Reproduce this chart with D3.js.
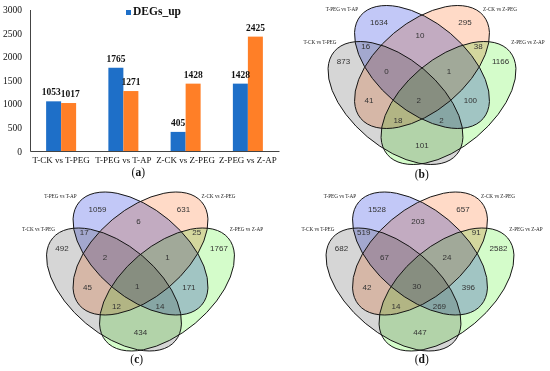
<!DOCTYPE html>
<html>
<head>
<meta charset="utf-8">
<script src="https://cdn.jsdelivr.net/npm/d3@7"></script>
<style>
  body { margin: 0; background: #fff; }
  svg { display: block; }
  .serif { font-family: "Liberation Serif", "Times New Roman", serif; fill: #111; }
  .count { font-family: "Liberation Sans", Arial, sans-serif; font-size: 8px; fill: #333; }
  .set-label { font-family: "Liberation Serif", "Times New Roman", serif; font-size: 5.2px; fill: #222; }
</style>
</head>
<body>
<svg id="fig" width="550" height="371"></svg>
<script>
// ---- data, panel (a) ----
var categories = ["T-CK vs T-PEG", "T-PEG vs T-AP", "Z-CK vs Z-PEG", "Z-PEG vs Z-AP"];
var seriesNames = ["DEGs_up", "DEGs_down"];
var degsUp = [1053, 1765, 405, 1428];
var degsDown = [1017, 1271, 1428, 2425];
var yTicks = [0, 500, 1000, 1500, 2000, 2500, 3000];
var legendNames = ["DEGs_up"];   // only this entry shows in the figure

// ---- data, panels (b) (c) (d) ----
var setNames = ["T-CK vs T-PEG", "T-PEG vs T-AP", "Z-CK vs Z-PEG", "Z-PEG vs Z-AP"];
var regionKeys = ["A", "B", "C", "D", "AB", "BC", "CD", "ABC", "BCD", "AC", "ABCD", "BD", "ACD", "ABD", "AD"];
var vennB = [873, 1634, 295, 1166, 16, 10, 38, 0, 1, 41, 2, 100, 18, 2, 101];
var vennC = [492, 1059, 631, 1767, 17, 6, 25, 2, 1, 45, 1, 171, 12, 14, 434];
var vennD = [682, 1528, 657, 2582, 519, 203, 91, 67, 24, 42, 30, 396, 14, 269, 447];

var svg = d3.select("#fig");

////////////////////////////////////////////////
// Panel (a): grouped bars

var bar = { left: 30, right: 279, top: 9.5, bottom: 151 };
var barColors = { DEGs_up: "#1e6fc8", DEGs_down: "#ff7f27" };
var barW = 15;

var x0 = d3.scaleBand().domain(categories).range([bar.left, bar.right]);
var x1 = d3.scaleBand().domain(seriesNames).range([-barW, barW]);
var y = d3.scaleLinear().domain([0, 3000]).range([bar.bottom, bar.top]);

var ga = svg.append("g").attr("class", "serif");

var yAxis = ga.append("g")
  .attr("transform", "translate(" + bar.left + ",0)")
  .call(d3.axisLeft(y).tickValues(yTicks).tickFormat(d3.format("d"))
    .tickSize(0).tickSizeOuter(0).tickPadding(8));
yAxis.select(".domain").attr("stroke", "#444");
yAxis.selectAll("text")
  .attr("font-family", "Liberation Serif, serif")
  .attr("font-size", 9.5).attr("fill", "#111");

var xAxis = ga.append("g")
  .attr("transform", "translate(0," + bar.bottom + ")")
  .call(d3.axisBottom(x0).tickSize(0).tickSizeOuter(0));
xAxis.select(".domain").attr("stroke", "#444");
xAxis.selectAll("text")
  .attr("font-family", "Liberation Serif, serif")
  .attr("font-size", 9).attr("fill", "#111")
  .attr("dy", null).attr("y", 12.3);

var rows = categories.map(function(c, i) {
  return { cat: c, values: [degsUp[i], degsDown[i]] };
});

var groups = ga.selectAll("g.grp")
  .data(rows)
  .enter().append("g")
    .attr("class", "grp")
    .attr("transform", function(d) {
      return "translate(" + (x0(d.cat) + x0.bandwidth() / 2) + ",0)";
    });

groups.selectAll("rect")
  .data(function(d) {
    return d.values.map(function(v, j) { return { s: seriesNames[j], v: v }; });
  })
  .enter().append("rect")
    .attr("x", function(d) { return x1(d.s); })
    .attr("width", x1.bandwidth())
    .attr("y", function(d) { return y(d.v); })
    .attr("height", function(d) { return bar.bottom - y(d.v); })
    .attr("fill", function(d) { return barColors[d.s]; });

// value labels; when the two labels of a group sit at about the same
// height they get pushed apart sideways, as the original does
groups.each(function(d) {
  var gs = d3.select(this);
  var close = Math.abs(y(d.values[0]) - y(d.values[1])) < 12;
  d.values.forEach(function(v, j) {
    var s = seriesNames[j];
    var nudge = close ? (j == 0 ? -2.3 : 1.7) : 0;
    gs.append("text")
      .attr("class", "val")
      .attr("x", x1(s) + x1.bandwidth() / 2 + nudge)
      .attr("y", y(v) - 6)
      .attr("text-anchor", "middle")
      .attr("font-size", 9.5)
      .attr("font-weight", "bold")
      .text(v);
  });
});

// legend
var lg = ga.selectAll("g.legend")
  .data(legendNames)
  .enter().append("g")
    .attr("class", "legend")
    .attr("transform", "translate(126,10)");
lg.append("rect").attr("width", 5).attr("height", 5)
  .attr("fill", function(d) { return barColors[d]; });
lg.append("text").attr("x", 7).attr("y", 5.3)
  .attr("font-size", 11.5).attr("font-weight", "bold")
  .text(function(d) { return d; });

////////////////////////////////////////////////
// Panels (b)-(d): four-ellipse Venn diagrams

// ellipse centres relative to (panel centre x, top of the inner ellipses)
var ellipseShapes = [
  { dx: -26.5, dy: 97.5, rot: 40 },
  { dx: 0,     dy: 61.5, rot: 40 },
  { dx: 0,     dy: 61.5, rot: -40 },
  { dx: 26.5,  dy: 97.5, rot: -40 }
];
var ellA = 80, ellB = 44;
var vennFills = ["#d6d6d6", "#c2c8f7", "#ffdac7", "#d4fcca"];

var regionOffsets = {
  A: [-78.5, 55.8], B: [-43, 17.1], C: [43, 17.1], D: [78.5, 55.8],
  AB: [-56.3, 40.3], BC: [-2, 29.5], CD: [56.3, 40.3],
  ABC: [-35.5, 65.6], BCD: [27, 65.6],
  AC: [-53, 94.9], ABCD: [-3.2, 94.5], BD: [48.4, 94.9],
  ACD: [-24, 114.5], ABD: [19.4, 114.5], AD: [0, 139.8]
};
var setLabelOffsets = [[-102, 37], [-80, 4], [78, 4], [106, 37]];

function drawVenn(cx, top, counts) {
  var g = svg.append("g").attr("transform", "translate(" + cx + "," + top + ")");

  var fills = g.append("g").style("isolation", "isolate");
  fills.selectAll("ellipse")
    .data(ellipseShapes)
    .enter().append("ellipse")
      .attr("rx", ellA).attr("ry", ellB)
      .attr("transform", function(d) {
        return "translate(" + d.dx + "," + d.dy + ") rotate(" + d.rot + ")";
      })
      .attr("fill", function(d, i) { return vennFills[i]; })
      .style("mix-blend-mode", "multiply");

  g.append("g").selectAll("ellipse")
    .data(ellipseShapes)
    .enter().append("ellipse")
      .attr("rx", ellA).attr("ry", ellB)
      .attr("transform", function(d) {
        return "translate(" + d.dx + "," + d.dy + ") rotate(" + d.rot + ")";
      })
      .attr("fill", "none")
      .attr("stroke", "#111")
      .attr("stroke-width", 0.9);

  g.selectAll("text.count")
    .data(regionKeys)
    .enter().append("text")
      .attr("class", "count")
      .attr("x", function(k) { return regionOffsets[k][0]; })
      .attr("y", function(k) { return regionOffsets[k][1]; })
      .attr("dy", "0.35em")
      .attr("text-anchor", "middle")
      .text(function(k, i) { return counts[i]; });

  g.selectAll("text.set-label")
    .data(setNames)
    .enter().append("text")
      .attr("class", "set-label")
      .attr("x", function(d, i) { return setLabelOffsets[i][0]; })
      .attr("y", function(d, i) { return setLabelOffsets[i][1]; })
      .attr("dy", "0.35em")
      .attr("text-anchor", "middle")
      .text(function(d) { return d; });
}

drawVenn(422, 5.5, vennB);
drawVenn(140.5, 192, vennC);
drawVenn(420, 192, vennD);

////////////////////////////////////////////////
// Panel letters

var panelLetters = [
  { t: "a", x: 138.3, y: 176 },
  { t: "b", x: 421.7, y: 177.5 },
  { t: "c", x: 136.7, y: 362.5 },
  { t: "d", x: 421.7, y: 362.5 }
];
var pl = svg.selectAll("text.panel")
  .data(panelLetters)
  .enter().append("text")
    .attr("class", "panel serif")
    .attr("x", function(d) { return d.x; })
    .attr("y", function(d) { return d.y; })
    .attr("text-anchor", "middle")
    .attr("font-size", 11.5);
pl.append("tspan").text("(");
pl.append("tspan").attr("font-weight", "bold").text(function(d) { return d.t; });
pl.append("tspan").text(")");
</script>
</body>
</html>
